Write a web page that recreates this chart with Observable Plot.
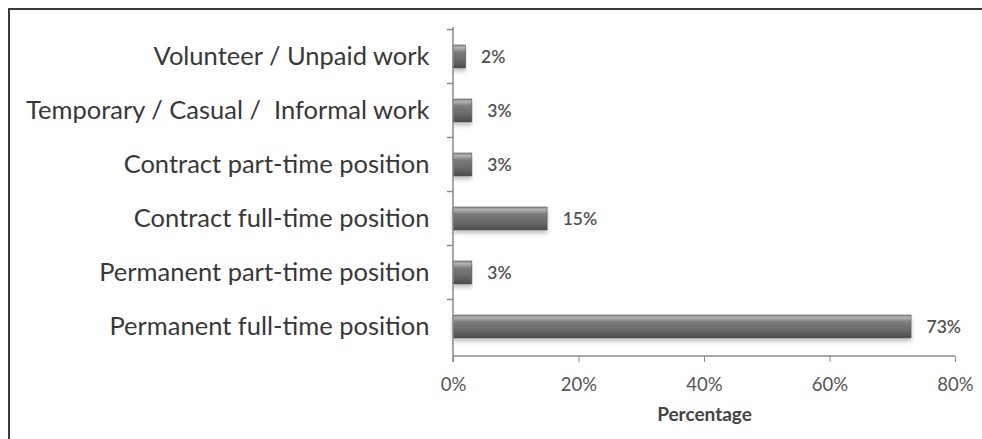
<!DOCTYPE html>
<html>
<head>
<meta charset="utf-8">
<script src="https://cdn.jsdelivr.net/npm/d3@7"></script>
<script src="https://cdn.jsdelivr.net/npm/@observablehq/plot@0.6"></script>
<style>
  html, body { margin: 0; padding: 0; background: #fff; }
  #wrap { position: relative; width: 982px; height: 439px; overflow: hidden; }
  #frame { position: absolute; left: 8px; top: 8px; right: -10px; bottom: -10px;
           border-top: 2px solid #3a3a3a; border-left: 2px solid #3a3a3a; pointer-events: none; }
  #chart { position: absolute; left: 0; top: 0; }
</style>
</head>
<body>
<div id="wrap"><div id="chart"></div><div id="frame"></div></div>
<script>
const categories = [
  "Volunteer / Unpaid work",
  "Temporary / Casual /  Informal work",
  "Contract part-time position",
  "Contract full-time position",
  "Permanent part-time position",
  "Permanent full-time position"
];
const values = [2, 3, 3, 15, 3, 73];
const xTicks = [0, 20, 40, 60, 80];
const xLabel = "Percentage";

const data = categories.map((c, i) => ({category: c, value: values[i]}));

const defs = () => {
  const ns = "http://www.w3.org/2000/svg";
  const g = document.createElementNS(ns, "defs");
  g.innerHTML = `
    <linearGradient id="barGrad" x1="0" y1="0" x2="0" y2="1">
      <stop offset="0" stop-color="#8c8c8c"/>
      <stop offset="0.12" stop-color="#b4b4b4"/>
      <stop offset="0.3" stop-color="#7c7c7c"/>
      <stop offset="0.7" stop-color="#666666"/>
      <stop offset="1" stop-color="#4a4a4a"/>
    </linearGradient>
    <filter id="shadow" x="-5%" y="-20%" width="110%" height="160%">
      <feDropShadow dx="0" dy="3" stdDeviation="2" flood-color="#000" flood-opacity="0.25"/>
    </filter>`;
  return g;
};

const axisDecor = (index, scales, values, dims) => {
  const ns = "http://www.w3.org/2000/svg";
  const g = document.createElementNS(ns, "g");
  const y = scales.y, x = scales.x;
  const bottom = dims.height - dims.marginBottom;
  const top = dims.marginTop;
  const x0 = x(0), x1 = x(xTicks[xTicks.length - 1]);
  const step = y.step ? y.step() : (bottom - top) / categories.length;
  const bw = y.bandwidth ? y.bandwidth() : step;
  let s = "";
  s += `<line x1="${x0}" x2="${x0}" y1="${top}" y2="${bottom + 6}" stroke="#8a8a8a" stroke-width="1.5"/>`;
  s += `<line x1="${x0}" x2="${x1}" y1="${bottom}" y2="${bottom}" stroke="#8a8a8a" stroke-width="1.5"/>`;
  categories.forEach(c => {
    const yb = y(c) - (step - bw) / 2;
    s += `<line x1="${x0 - 6}" x2="${x0}" y1="${yb}" y2="${yb}" stroke="#8a8a8a" stroke-width="1.5"/>`;
  });
  g.innerHTML = s;
  return g;
};

const chart = Plot.plot({
  width: 982,
  height: 439,
  marginLeft: 453,
  marginRight: 27,
  marginTop: 27,
  marginBottom: 83,
  style: {fontFamily: "Lato, 'Open Sans', sans-serif", background: "transparent"},
  x: {domain: [0, 80], ticks: xTicks},
  y: {domain: categories, paddingInner: 0.58, paddingOuter: 0.29},
  marks: [
    defs,
    Plot.barX(data, {x: "value", y: "category", fill: "url(#barGrad)", stroke: "#5a5a5a", strokeWidth: 0.6}),
    axisDecor,
    Plot.axisY({tickSize: 0, tickPadding: 24, fontSize: 25.5, fill: "#383838", label: null}),
    Plot.axisX({ticks: xTicks, tickFormat: d => d + "%", tickSize: 6, tickPadding: 15, fontSize: 18.5, fill: "#555", stroke: "#8a8a8a", label: null}),
    Plot.text(data, {x: "value", y: "category", text: d => d.value + "%", dx: 15, textAnchor: "start", fontSize: 17.5, fontWeight: "600", fill: "#505050"}),
    Plot.text([xLabel], {frameAnchor: "bottom", dy: 64, text: d => d, fontSize: 19, fontWeight: "bold", fill: "#444"})
  ]
});
chart.querySelectorAll("rect").forEach(r => r.setAttribute("filter", "url(#shadow)"));
document.getElementById("chart").appendChild(chart);
</script>
</body>
</html>
